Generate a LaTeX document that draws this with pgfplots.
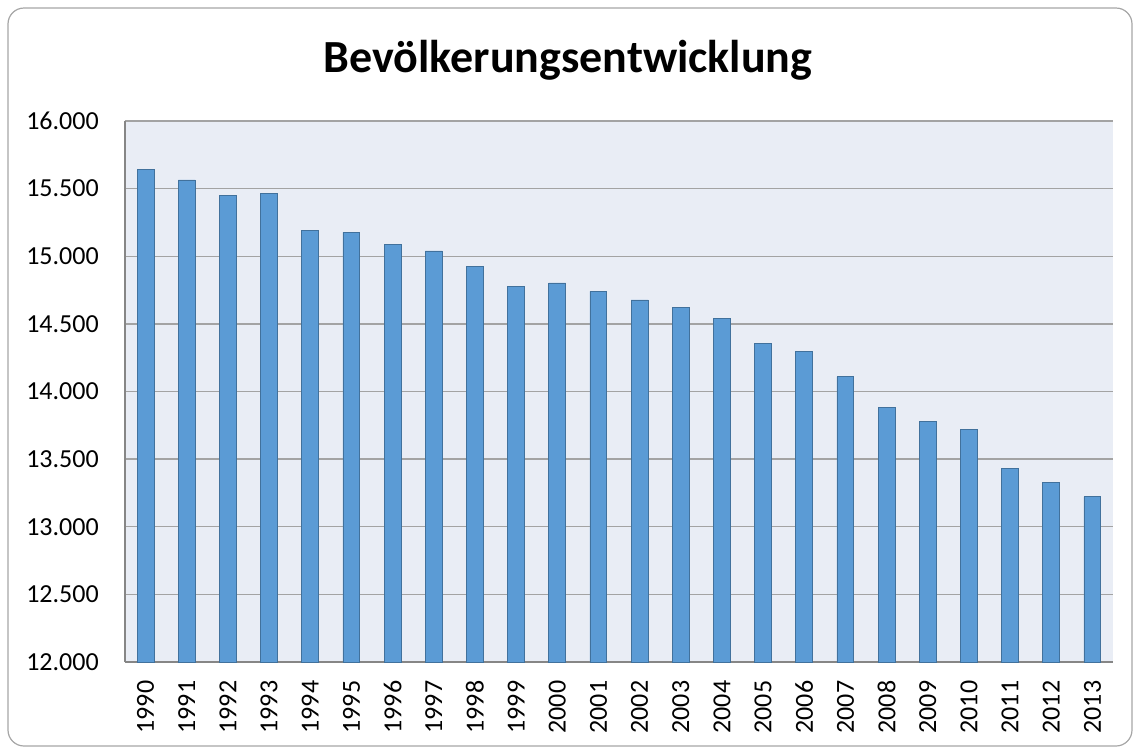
\documentclass[border=0pt]{standalone}
\usepackage{pgfplots}
\pgfplotsset{compat=1.18}
\usepackage{fontspec}
\setmainfont{Carlito}
\newfontfamily\titlefont{Carlito}
\definecolor{barfill}{HTML}{5B9BD5}
\definecolor{baredge}{HTML}{41719C}
\definecolor{plotbg}{HTML}{E9EDF5}
\definecolor{gridc}{HTML}{A3A3A3}
\definecolor{axisc}{HTML}{868686}
\definecolor{framec}{HTML}{A6A6A6}
\begin{document}
\begin{tikzpicture}
\useasboundingbox (0,0) rectangle (849.75pt,-560.25pt);
\draw[framec, line width=0.9pt, rounded corners=12pt] (6pt,-6pt) rectangle (849pt,-559.5pt);
\node[font=\titlefont\bfseries\fontsize{34.5}{38}\selectfont, anchor=base] at (426pt,-54.5pt) {Bevölkerungsentwicklung};
\begin{axis}[
  at={(93.75pt,-496.5pt)}, anchor=south west,
  scale only axis, width=741pt, height=405.75pt,
  xmin=-0.5, xmax=23.5, ymin=12000, ymax=16000,
  scaled y ticks=false,
  axis x line*=bottom, axis y line*=left,
  axis line style={axisc, line width=1.2pt, -},
  axis background/.style={fill=plotbg},
  ymajorgrids, grid style={gridc, line width=1pt},
  major tick length=0pt,
  ytick={12000,12500,13000,13500,14000,14500,15000,15500,16000},
  yticklabels={12.000,12.500,13.000,13.500,14.000,14.500,15.000,15.500,16.000},
  xtick={0,...,23},
  xticklabels={1990,1991,1992,1993,1994,1995,1996,1997,1998,1999,2000,2001,2002,2003,2004,2005,2006,2007,2008,2009,2010,2011,2012,2013},
  tick label style={font=\fontsize{19.5}{21}\selectfont, text=black},
  y tick label style={anchor=east, inner sep=0pt, xshift=-19.5pt},
  x tick label style={rotate=90, anchor=east, inner sep=0pt, xshift=-13.8pt},
  clip=false,
]
\addplot[ybar, bar width=0.41, fill=barfill, draw=baredge, line width=0.6pt] coordinates {
(0,15645) (1,15564) (2,15450) (3,15462) (4,15189) (5,15177) (6,15090) (7,15039)
(8,14926) (9,14780) (10,14803) (11,14741) (12,14677) (13,14623) (14,14542) (15,14352)
(16,14294) (17,14109) (18,13882) (19,13778) (20,13722) (21,13433) (22,13327) (23,13221)
};
\end{axis}
\end{tikzpicture}
\end{document}
